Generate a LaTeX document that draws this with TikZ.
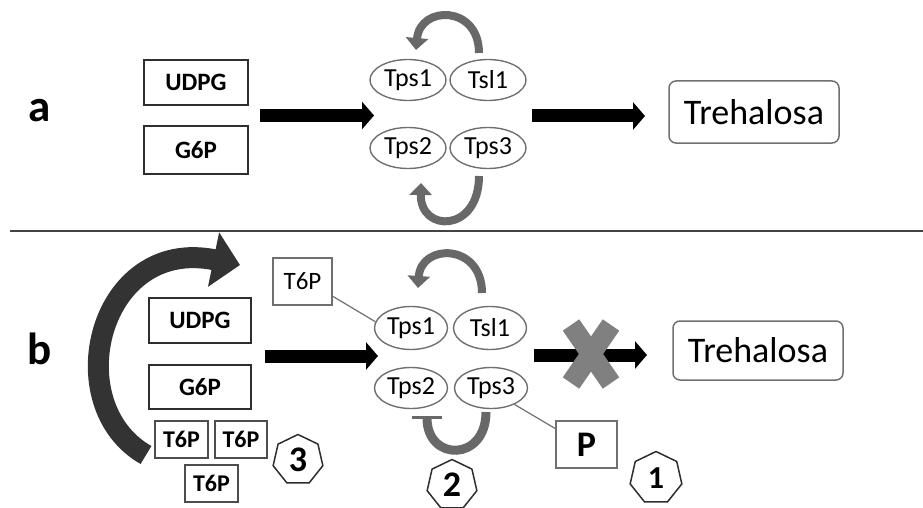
\documentclass[tikz,border=0pt]{standalone}
\usepackage{fontspec}
\setmainfont{Carlito}
\usetikzlibrary{arrows.meta,shapes.geometric}
\definecolor{inkdark}{HTML}{2E2E2E}
\definecolor{rimgray}{HTML}{707070}
\definecolor{loopgray}{HTML}{686868}
\definecolor{crossgray}{HTML}{808080}
\definecolor{feedback}{HTML}{333333}
\newcommand{\fs}[1]{\fontsize{#1pt}{#1pt}\selectfont}
\tikzset{
  inbox/.style={draw=inkdark, line width=2pt, inner sep=0pt, font=\fs{25}\bfseries},
  enz/.style={ellipse, draw=rimgray, line width=1.4pt, inner sep=0pt,
              minimum width=76pt, minimum height=41pt, font=\fs{26}},
  treh/.style={draw=rimgray, line width=1.5pt, rounded corners=7pt, inner sep=0pt,
               minimum width=170pt, minimum height=60pt, font=\fs{36}},
  smallbox/.style={draw=inkdark!85, line width=1.5pt, inner sep=0pt,
                   minimum width=53pt, minimum height=37pt, font=\fs{24}\bfseries},
  hept/.style={regular polygon, regular polygon sides=7, draw=inkdark, line width=1.5pt,
               inner sep=0pt, minimum size=51pt, font=\fs{36}\bfseries},
  panel/.style={font=\fs{45}\bfseries, inner sep=0pt},
  flow/.style={line width=13pt, -{Triangle[length=12pt,width=27pt]}},
  cycle/.style={loopgray, line width=8pt, -{Triangle[length=12pt,width=22pt]}},
  link/.style={draw=rimgray, line width=1.2pt}
}
\begin{document}
\begin{tikzpicture}[x=1pt,y=-1pt]
\useasboundingbox (0,0) rectangle (923,508);

% ---------- panel a ----------
\node[panel] (la) at (40,111) {a};
\node[inbox, minimum width=104pt, minimum height=45pt] (udpga) at (196,82.5) {UDPG};
\node[inbox, minimum width=104pt, minimum height=48pt] (g6pa) at (196,150) {G6P};

\node[enz] (tps1a) at (408,80) {Tps1};
\node[enz] (tsl1a) at (488,80) {Tsl1};
\node[enz] (tps2a) at (408,148) {Tps2};
\node[enz] (tps3a) at (488,148) {Tps3};

\node[treh, minimum height=62pt] (treha) at (754,112) {Trehalosa};

\coordinate (a1s) at (260,115.5);
\coordinate (a1e) at (374,115.5);
\coordinate (a2s) at (532,116);
\coordinate (a2e) at (645,116);
\draw[flow] (a1s) -- (a1e);
\draw[flow] (a2s) -- (a2e);

% turnover loops around the complex
\coordinate (ta1) at (479,53);
\coordinate (ta2) at (416,50);
\draw[cycle] (ta1) .. controls (479,5) and (420,5) .. (ta2);
\coordinate (ba1) at (479,176);
\coordinate (ba2) at (421,183);
\draw[cycle] (ba1) .. controls (479,233) and (420,233) .. (ba2);

% separator
\coordinate (sepl) at (10,231);
\coordinate (sepr) at (923,231);
\draw[inkdark!90, line width=2.5pt] (sepl) -- (sepr);

% ---------- panel b ----------
\node[panel] (lb) at (40,349) {b};

% T6P feedback arrow
\coordinate (fbs) at (146,455);
\coordinate (fbe) at (240,265);
\draw[feedback, line width=21pt, -{Triangle[length=27pt,width=54pt]}]
  (fbs) .. controls (58,405) and (98,236) .. (fbe);

\node[inbox, minimum width=102pt, minimum height=45pt] (udpgb) at (200,320.5) {UDPG};
\node[inbox, minimum width=102pt, minimum height=44pt] (g6pb) at (200,387) {G6P};

\node[smallbox] (t6p1) at (181.5,439.5) {T6P};
\node[smallbox, minimum width=52pt] (t6p2) at (241,439.5) {T6P};
\node[smallbox] (t6p3) at (211.5,483.5) {T6P};
\node[hept] (h3) at (298,460) {3};

\node[draw=rimgray, line width=1.3pt, inner sep=0pt, minimum width=59pt,
      minimum height=47pt, font=\fs{25}] (t6pt) at (302.5,281.5) {T6P};

\node[enz, minimum width=73pt, minimum height=43pt] (tps1b) at (411,328) {Tps1};
\node[enz, minimum width=73pt, minimum height=43pt] (tsl1b) at (490,328) {Tsl1};
\node[enz, minimum width=73pt, minimum height=41pt] (tps2b) at (411,388) {Tps2};
\node[enz, minimum width=73pt, minimum height=41pt] (tps3b) at (491,388) {Tps3};

\draw[link] (t6pt.-26) -- (tps1b.170);

\node[draw=rimgray, line width=1.4pt, inner sep=0pt, minimum width=61pt,
      minimum height=47pt, font=\fs{36}\bfseries] (pbox) at (586.5,444.5) {P};
\draw[link] (tps3b.-35) -- (pbox.153);

\node[hept] (h2) at (452,485) {2};
\node[hept, minimum size=53pt, font=\fs{32}\bfseries] (h1) at (656,478) {1};

\node[treh, minimum height=59pt] (trehb) at (758,350.5) {Trehalosa};

\coordinate (b1s) at (265,356);
\coordinate (b1e) at (378,356);
\coordinate (b2s) at (534,355);
\coordinate (b2e) at (647,355);
\draw[flow] (b1s) -- (b1e);
\draw[flow] (b2s) -- (b2e);

% blocked step
\coordinate (xa) at (571,325);
\coordinate (xb) at (611,383);
\coordinate (xc) at (611,325);
\coordinate (xd) at (571,383);
\draw[crossgray, line width=20pt] (xa) -- (xb);
\draw[crossgray, line width=20pt] (xc) -- (xd);

% loops around the complex in b
\coordinate (tb1) at (482,293);
\coordinate (tb2) at (418,288);
\draw[cycle] (tb1) .. controls (482,243) and (421,243) .. (tb2);
\coordinate (ub1) at (486,412);
\coordinate (ub2) at (427,418);
\draw[loopgray, line width=9pt] (ub1) .. controls (486,462) and (427,462) .. (ub2);
\draw[loopgray, line width=3pt] (ub2) ++(-15,-1) -- ++(30,0);
\end{tikzpicture}
\end{document}
